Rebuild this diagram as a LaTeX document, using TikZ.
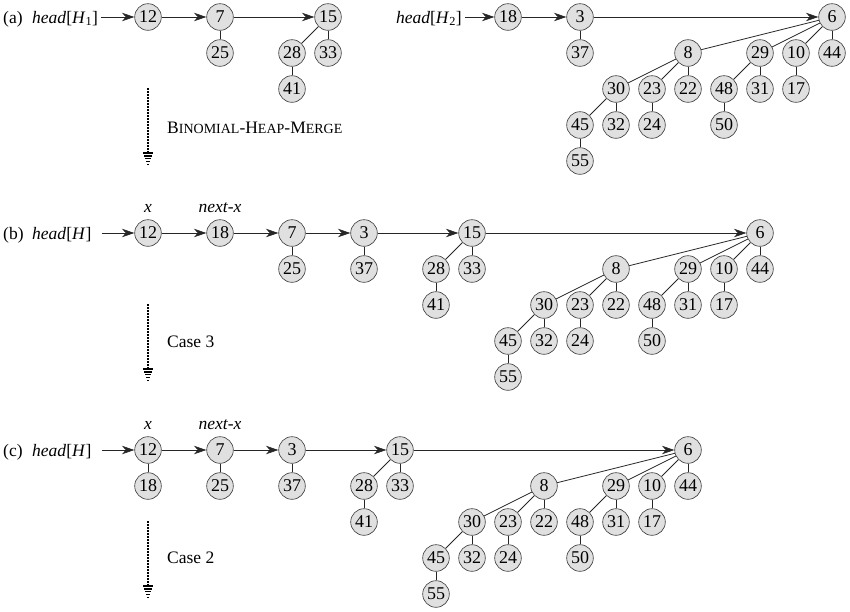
\documentclass[tikz,border=0pt]{standalone}
\usepackage{fontspec}
\setmainfont{Liberation Serif}
\usetikzlibrary{arrows.meta}
\tikzset{
  key/.style={circle, draw=black!75, line width=0.65pt, fill=black!12,
    minimum size=26.6pt, inner sep=0pt, font=\fontsize{18}{21}\selectfont},
  tedge/.style={draw=black!85, line width=0.8pt},
  link/.style={draw=black!85, line width=0.7pt,
    -{Stealth[length=12.5pt,width=8.5pt,inset=4pt]}},
  lbl/.style={font=\fontsize{17.5}{20}\selectfont, inner sep=0pt},
  dotline/.style={line width=1.5pt, dash pattern=on 1.5pt off 1.5pt},
  tipstrip/.style={line width=1.4pt},
}
% binomial tree B1: prefix, root, child, x, y
\newcommand\BOne[5]{%
  \node[key] (#1#2) at (#4,#5) {#2};
  \node[key] (#1#3) at (#4,{#5+36}) {#3};
  \draw[tedge] (#1#2) -- (#1#3);
}
% binomial tree B2 rooted at 15
\newcommand\BTwo[3]{%
  \begin{scope}[shift={(#2,#3)}]
    \node[key] (#115) at (0,0) {15};
    \node[key] (#128) at (-36,36) {28};
    \node[key] (#133) at (0,36) {33};
    \node[key] (#141) at (-36,72) {41};
  \end{scope}
  \draw[tedge] (#115) -- (#128);
  \draw[tedge] (#115) -- (#133);
  \draw[tedge] (#128) -- (#141);
}
% binomial tree B4 rooted at 6
\newcommand\BFour[3]{%
  \begin{scope}[shift={(#2,#3)}]
    \node[key] (#16) at (0,0) {6};
    \node[key] (#18) at (-144,36) {8};
    \node[key] (#129) at (-72,36) {29};
    \node[key] (#110) at (-36,36) {10};
    \node[key] (#144) at (0,36) {44};
    \node[key] (#130) at (-216,72) {30};
    \node[key] (#123) at (-180,72) {23};
    \node[key] (#122) at (-144,72) {22};
    \node[key] (#148) at (-108,72) {48};
    \node[key] (#131) at (-72,72) {31};
    \node[key] (#117) at (-36,72) {17};
    \node[key] (#145) at (-252,108) {45};
    \node[key] (#132) at (-216,108) {32};
    \node[key] (#124) at (-180,108) {24};
    \node[key] (#150) at (-108,108) {50};
    \node[key] (#155) at (-252,144) {55};
  \end{scope}
  \draw[tedge] (#16) -- (#18);
  \draw[tedge] (#16) -- (#129);
  \draw[tedge] (#16) -- (#110);
  \draw[tedge] (#16) -- (#144);
  \draw[tedge] (#18) -- (#130);
  \draw[tedge] (#18) -- (#123);
  \draw[tedge] (#18) -- (#122);
  \draw[tedge] (#129) -- (#148);
  \draw[tedge] (#129) -- (#131);
  \draw[tedge] (#110) -- (#117);
  \draw[tedge] (#130) -- (#145);
  \draw[tedge] (#130) -- (#132);
  \draw[tedge] (#123) -- (#124);
  \draw[tedge] (#148) -- (#150);
  \draw[tedge] (#145) -- (#155);
}
% dotted down arrow: prefix, x, base y
\newcommand\DotArrow[3]{%
  \coordinate (#1dtop) at (#2,{#3+71});
  \coordinate (#1dbot) at (#2,{#3+135});
  \draw[dotline] (#1dtop) -- (#1dbot);
  \foreach \k in {0,...,4}{%
    \draw[tipstrip] ({#2-4.8*(1-\k/5)},{#3+136+\k*2.8}) -- ({#2+4.8*(1-\k/5)},{#3+136+\k*2.8});
  }
}
\begin{document}
\begin{tikzpicture}[x=1pt,y=-1pt]
\useasboundingbox (0,0) rectangle (850,611);

% ---------------- (a) ----------------
\node[lbl, anchor=base west] (alab) at (3,23) {(a)};
\node[lbl, anchor=base west] (ahead1) at (32,23) {\textit{head}[\textit{H}\textsubscript{1}]};
\coordinate (astart1) at (101,17);
\node[key] (a12) at (148,17) {12};
\BOne{a}{7}{25}{220}{17}
\BTwo{a}{328}{17}
\draw[link] (astart1) -- (a12);
\draw[link] (a12) -- (a7);
\draw[link] (a7) -- (a15);

\node[lbl, anchor=base east] (ahead2) at (462,23) {\textit{head}[\textit{H}\textsubscript{2}]};
\coordinate (astart2) at (465,17);
\node[key] (a18) at (508,17) {18};
\BOne{a}{3}{37}{580}{17}
\BFour{a}{832}{17}
\draw[link] (astart2) -- (a18);
\draw[link] (a18) -- (a3);
\draw[link] (a3) -- (a6);

\DotArrow{a}{148}{17}
\node[lbl, anchor=base west] (amerge) at (167,133)
  {B{\fontsize{14}{16}\selectfont INOMIAL}-H{\fontsize{14}{16}\selectfont EAP}-M{\fontsize{14}{16}\selectfont ERGE}};

% ---------------- (b) ----------------
\node[lbl, anchor=base west] (blab) at (3,239) {(b)};
\node[lbl, anchor=base west] (bhead) at (32,239) {\textit{head}[\textit{H}]};
\coordinate (bstart) at (102,233);
\node[key] (b12) at (148,233) {12};
\node[key] (b18) at (220,233) {18};
\BOne{b}{7}{25}{292}{233}
\BOne{b}{3}{37}{364}{233}
\BTwo{b}{472}{233}
\BFour{b}{760}{233}
\draw[link] (bstart) -- (b12);
\draw[link] (b12) -- (b18);
\draw[link] (b18) -- (b7);
\draw[link] (b7) -- (b3);
\draw[link] (b3) -- (b15);
\draw[link] (b15) -- (b6);
\node[lbl, anchor=base] (bx) at (148,212) {\textit{x}};
\node[lbl, anchor=base] (bnx) at (220,212) {\textit{next-x}};

\DotArrow{b}{148}{233}
\node[lbl, anchor=base west] (bcase) at (167,347) {Case 3};

% ---------------- (c) ----------------
\node[lbl, anchor=base west] (clab) at (3,456) {(c)};
\node[lbl, anchor=base west] (chead) at (32,456) {\textit{head}[\textit{H}]};
\coordinate (cstart) at (102,450);
\BOne{c}{12}{18}{148}{450}
\BOne{c}{7}{25}{220}{450}
\BOne{c}{3}{37}{292}{450}
\BTwo{c}{400}{450}
\BFour{c}{688}{450}
\draw[link] (cstart) -- (c12);
\draw[link] (c12) -- (c7);
\draw[link] (c7) -- (c3);
\draw[link] (c3) -- (c15);
\draw[link] (c15) -- (c6);
\node[lbl, anchor=base] (cx) at (148,429) {\textit{x}};
\node[lbl, anchor=base] (cnx) at (220,429) {\textit{next-x}};

\DotArrow{c}{148}{450}
\node[lbl, anchor=base west] (ccase) at (167,563) {Case 2};
\end{tikzpicture}
\end{document}
